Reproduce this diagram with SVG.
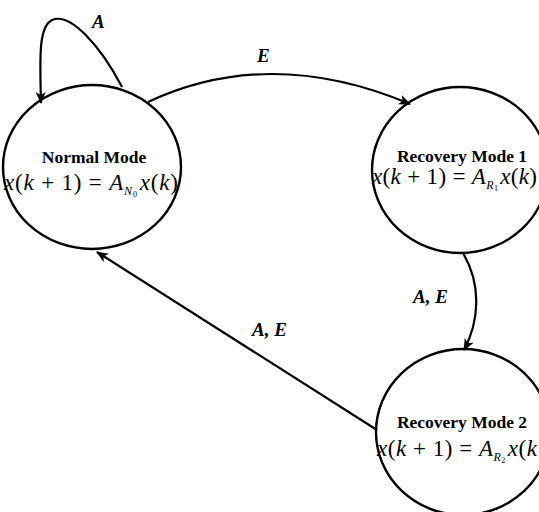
<svg xmlns="http://www.w3.org/2000/svg" width="539" height="512" viewBox="0 0 539 512">
<style>
.node{fill:#fff;stroke:#000;stroke-width:2.4}
.title{font-family:"Liberation Serif",serif;font-weight:bold;font-size:17.5px;fill:#000}
.eq{font-family:"Liberation Serif",serif;font-size:23px;fill:#000}
.i{font-style:italic}
.s1{font-style:italic;font-size:12px}
.s2{font-size:8px}
.lbl{font-family:"Liberation Serif",serif;font-style:italic;font-weight:bold;font-size:19px;fill:#000}
.edge{fill:none;stroke:#000;stroke-width:2.2}
</style>
<defs>
<marker id="ah" markerWidth="12" markerHeight="10" refX="11" refY="5" orient="auto" markerUnits="userSpaceOnUse">
<path d="M0,0 L12,5 L0,10 L3,5 Z" fill="#000"/>
</marker>
</defs>
<rect width="539" height="512" fill="#fff"/>
<g id="normal">
<ellipse class="node" cx="92" cy="167" rx="89" ry="82"/>
<text class="title" x="94" y="163" text-anchor="middle">Normal Mode</text>
<text class="eq" x="4" y="190" textLength="174" lengthAdjust="spacing"><tspan class="i">x</tspan>(<tspan class="i">k</tspan> + 1) = <tspan class="i">A</tspan><tspan class="s1" dy="5">N</tspan><tspan class="s2" dy="2">0</tspan><tspan class="i" dy="-7" dx="2">x</tspan>(<tspan class="i">k</tspan>)</text>
</g>
<g id="recovery1">
<ellipse class="node" cx="460" cy="170" rx="88" ry="83"/>
<text class="title" x="462" y="162" text-anchor="middle">Recovery Mode 1</text>
<text class="eq" x="372" y="184" textLength="165" lengthAdjust="spacing"><tspan class="i">x</tspan>(<tspan class="i">k</tspan> + 1) = <tspan class="i">A</tspan><tspan class="s1" dy="5">R</tspan><tspan class="s2" dy="2">1</tspan><tspan class="i" dy="-7" dx="2">x</tspan>(<tspan class="i">k</tspan>)</text>
</g>
<g id="recovery2">
<ellipse class="node" cx="463" cy="432" rx="87" ry="83"/>
<text class="title" x="462" y="428" text-anchor="middle">Recovery Mode 2</text>
<text class="eq" x="377" y="456" textLength="160" lengthAdjust="spacing"><tspan class="i">x</tspan>(<tspan class="i">k</tspan> + 1) = <tspan class="i">A</tspan><tspan class="s1" dy="5">R</tspan><tspan class="s2" dy="2">2</tspan><tspan class="i" dy="-7" dx="2">x</tspan>(<tspan class="i">k</tspan></text>
</g>
<g id="connectors">
<path class="edge" d="M122,87 C100,45 70,12 52,20 C38,27 40,60 41,103" marker-end="url(#ah)"/>
<path class="edge" d="M148,102 Q270,45 410,104" marker-end="url(#ah)"/>
<path class="edge" d="M463,253 C482,285 479,322 464,350" marker-end="url(#ah)"/>
<path class="edge" d="M377,430 Q235,340 97,252" marker-end="url(#ah)"/>
</g>
<text class="lbl" x="92" y="28">A</text>
<text class="lbl" x="257" y="62">E</text>
<text class="lbl" x="413" y="303">A, E</text>
<text class="lbl" x="252" y="336">A, E</text>
</svg>
